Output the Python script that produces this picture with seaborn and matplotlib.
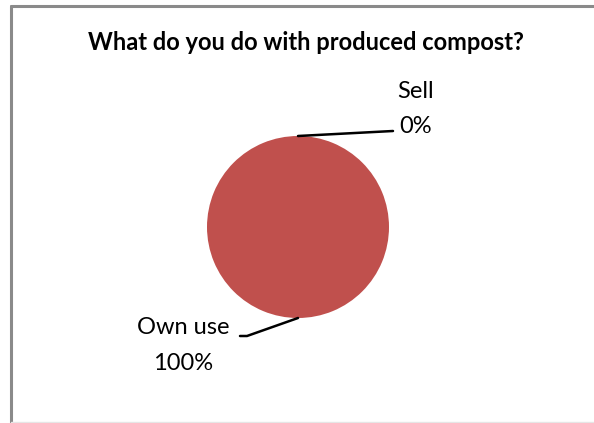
import matplotlib.pyplot as plt
import seaborn as sns
from matplotlib.lines import Line2D
import numpy as np

# ===== DATA =====
categories = ["Own use", "Sell"]
values = [100, 0]
title = "What do you do with produced compost?"

sns.set_theme(style="white")
plt.rcParams["font.family"] = ["Lato", "DejaVu Sans"]

W, H = 594, 423
fig = plt.figure(figsize=(W / 100, H / 100), dpi=100)
ax = fig.add_axes([0, 0, 1, 1])

# pie in pixel coordinates (y measured from the bottom)
cx, cy, r = 298, H - 227, 91
colors = ["#C0504D", "#4F81BD"]
wedges, _ = ax.pie(
    values,
    colors=colors,
    startangle=90,
    counterclock=False,
    center=(cx, cy),
    radius=r,
    wedgeprops=dict(linewidth=0),
)
ax.set_xlim(0, W)
ax.set_ylim(0, H)
ax.set_aspect("equal")
ax.axis("off")

# labels with leader lines
total = sum(values)
label_pos = {"Sell": (416, 108), "Own use": (183, 345)}
elbow = {"Sell": [(393, 131)], "Own use": [(247, 336), (240, 336)]}
start = 90
for cat, v in zip(categories, values):
    span = 360 * v / total
    mid = np.deg2rad(start - span / 2)
    start -= span
    px, py = cx + r * np.cos(mid), cy + r * np.sin(mid)
    pts = [(px, py)] + [(x, H - y) for x, y in elbow[cat]]
    ax.add_line(Line2D([p[0] for p in pts], [p[1] for p in pts], color="black", lw=1.8))
    lx, ly = label_pos[cat]
    pct = f"{v / total:.0%}"
    ax.text(lx, H - (ly - 17), cat, ha="center", va="center", fontsize=17, color="black")
    ax.text(lx, H - (ly + 18), pct, ha="center", va="center", fontsize=17, color="black")

# title
ax.text(306, H - 42, title, ha="center", va="center", fontsize=17, fontweight="bold", color="black")

# chart area border
ax.add_line(Line2D([10.5, 10.5], [0, H - 6], color="#8a8a8a", lw=2.2))
ax.add_line(Line2D([10.5, W], [H - 6, H - 6], color="#8a8a8a", lw=2.2))
ax.add_line(Line2D([10.5, W], [1.5, 1.5], color="#e6e6e6", lw=1))

fig.savefig("out.png", dpi=100)
